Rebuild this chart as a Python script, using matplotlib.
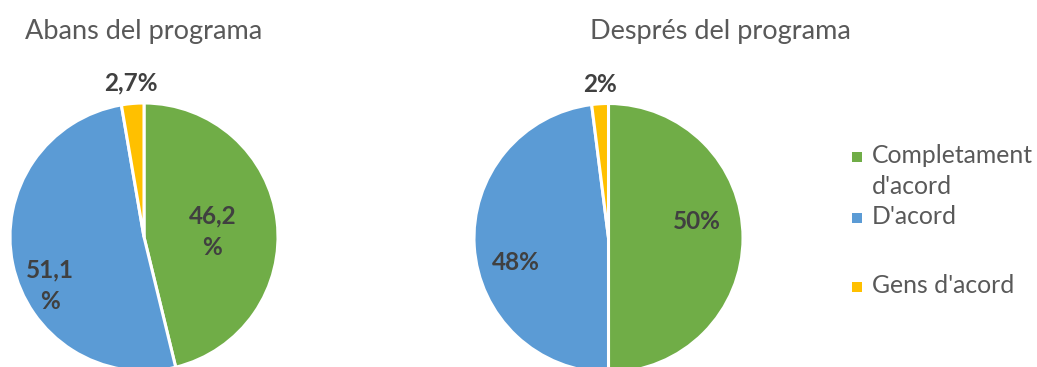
import matplotlib
matplotlib.use("Agg")
import matplotlib.pyplot as plt
from matplotlib.patches import Rectangle

plt.rcParams['font.family'] = ['Lato', 'DejaVu Sans']

categories = ["Completament\nd'acord", "D'acord", "Gens d'acord"]
colors = ["#70AD47", "#5B9BD5", "#FFC000"]
titles = ["Abans del programa", "Després del programa"]
before = [46.2, 51.1, 2.7]
after = [50, 48, 2]
labels_before = ["46,2\n%", "51,1\n%", "2,7%"]
labels_after = ["50%", "48%", "2%"]

W, H = 1037, 367
fig = plt.figure(figsize=(W / 100, H / 100), dpi=100)


def px_axes(cx, cy, r):
    # axes whose data box [-1,1]^2 maps onto a circle of radius r px at (cx, cy) measured from top-left
    return fig.add_axes([(cx - r) / W, (H - cy - r) / H, 2 * r / W, 2 * r / H])


def draw_pie(ax, values, labels, label_pos):
    ax.pie(values, colors=colors, startangle=90, counterclock=False, radius=1,
           wedgeprops=dict(edgecolor="white", linewidth=2.2))
    ax.set_xlim(-1, 1)
    ax.set_ylim(-1, 1)
    ax.set_aspect("equal")
    ax.axis("off")
    for txt, (x, y) in zip(labels, label_pos):
        ax.text(x, y, txt, ha="center", va="center", fontsize=17.5, fontweight="bold",
                color="#404040", linespacing=1.45)


ax1 = px_axes(144, 237, 134)
draw_pie(ax1, before, labels_before, [(0.51, 0.04), (-0.70, -0.36), (-0.10, 1.15)])
ax2 = px_axes(608.5, 238, 134.5)
draw_pie(ax2, after, labels_after, [(0.66, 0.12), (-0.69, -0.18), (-0.06, 1.14)])

fig.text(144 / W, 1 - 31 / H, titles[0], ha="center", va="center", fontsize=19.5, color="#595959")
fig.text(720 / W, 1 - 31 / H, titles[1], ha="center", va="center", fontsize=19.5, color="#595959")

# legend
legend_y = [157, 218, 287]
for cat, col, y in zip(categories, colors, legend_y):
    fig.patches.append(Rectangle((852 / W, 1 - (y + 5) / H), 10 / W, 10 / H,
                                 transform=fig.transFigure, facecolor=col, edgecolor="none"))
    fig.text(872 / W, 1 - (y - 13) / H, cat, ha="left", va="top", fontsize=17.8,
             color="#595959", linespacing=1.4)

fig.savefig("out.png", dpi=100, facecolor="white")
